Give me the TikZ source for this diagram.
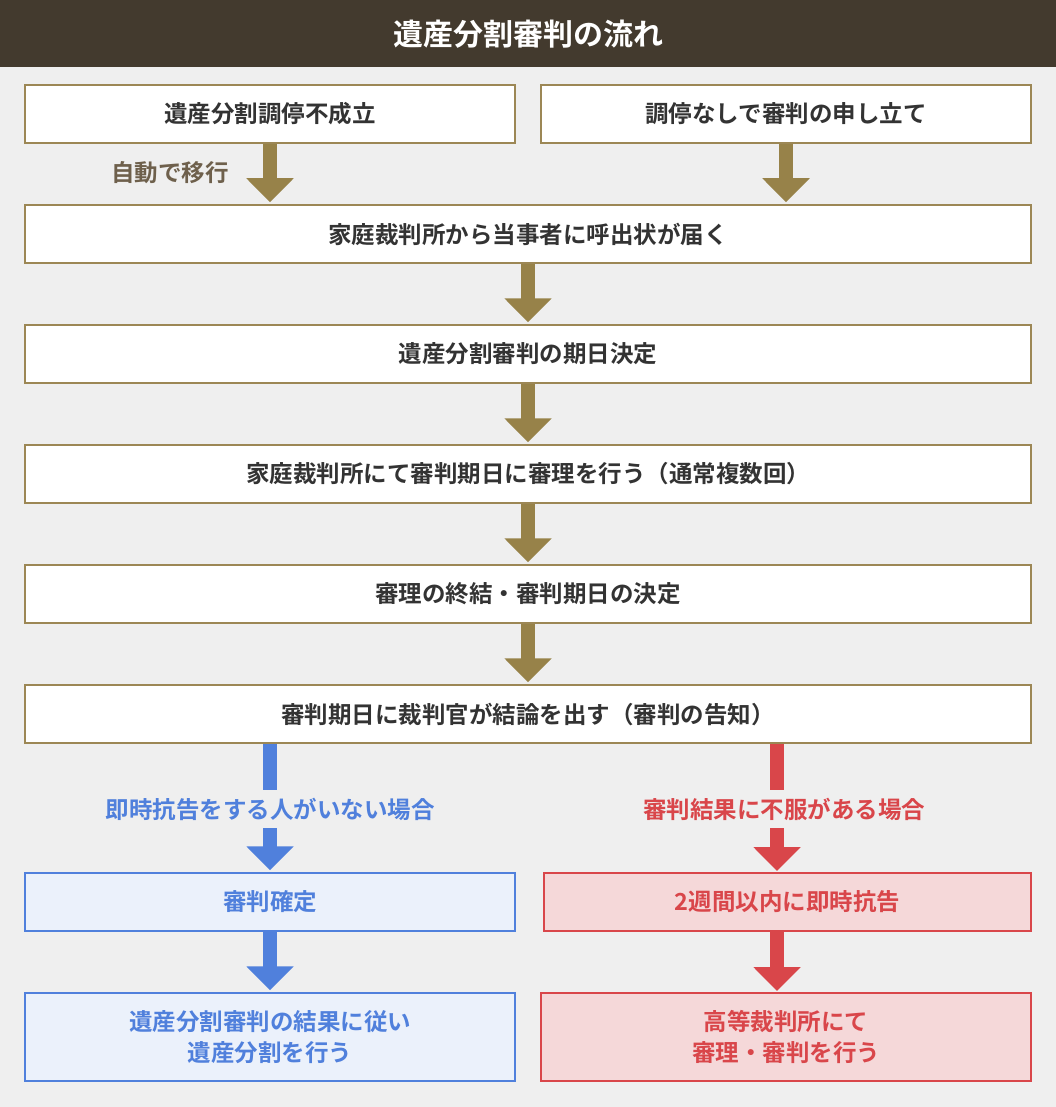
\documentclass[tikz,border=0pt]{standalone}
\usepackage{fontspec}
\setmainfont{Noto Sans CJK JP}[BoldFont={* Bold}]
\usetikzlibrary{arrows.meta}
\definecolor{hdr}{HTML}{433A2E}
\definecolor{bg}{HTML}{EFEFEF}
\definecolor{gold}{HTML}{978249}
\definecolor{goldline}{HTML}{9C8755}
\definecolor{txt}{HTML}{333333}
\definecolor{blu}{HTML}{5080DC}
\definecolor{blufill}{HTML}{EBF1FB}
\definecolor{rd}{HTML}{D9464A}
\definecolor{rdfill}{HTML}{F5D8D9}
\definecolor{lbl}{HTML}{6E604C}
\begin{document}
\begin{tikzpicture}[x=1pt,y=-1pt,
  box/.style={draw=goldline,line width=1.5pt,fill=white,minimum height=58pt,font=\bfseries\fontsize{23.5}{31}\selectfont,text=txt,align=center,inner sep=0pt},
  wide/.style={box,minimum width=1006pt},
  half/.style={box,minimum width=490pt},
  bbox/.style={half,draw=blu,fill=blufill,text=blu},
  rbox/.style={half,draw=rd,fill=rdfill,text=rd},
  arr/.style={line width=14pt,draw=#1,-{Triangle[width=46pt,length=24pt,color=#1]},shorten >=2pt},
  shaft/.style={line width=14pt,draw=#1},
  lab/.style={font=\bfseries\fontsize{23.5}{28}\selectfont,inner sep=0pt,minimum height=38pt}]
\fill[bg] (0,0) rectangle (1056,1107);
\useasboundingbox (0,0) rectangle (1056,1107);
\fill[hdr] (0,0) rectangle (1056,67);
\node[font=\bfseries\fontsize{30}{36}\selectfont,text=white] (title) at (528,34) {遺産分割審判の流れ};
\node[half] (a) at (270,114) {遺産分割調停不成立};
\node[half] (b) at (786,114) {調停なしで審判の申し立て};
\node[wide] (c) at (528,234) {家庭裁判所から当事者に呼出状が届く};
\node[wide] (d) at (528,354) {遺産分割審判の期日決定};
\node[wide] (e) at (528,474) {家庭裁判所にて審判期日に審理を行う（通常複数回）};
\node[wide] (f) at (528,594) {審理の終結・審判期日の決定};
\node[wide] (g) at (528,714) {審判期日に裁判官が結論を出す（審判の告知）};
\node[lab,text=lbl,anchor=east] (auto) at (229,173) {自動で移行};
\draw[arr=gold] (a.south) -- (a.south |- c.north);
\draw[arr=gold] (b.south) -- (b.south |- c.north);
\draw[arr=gold] (c.south) -- (d.north);
\draw[arr=gold] (d.south) -- (e.north);
\draw[arr=gold] (e.south) -- (f.north);
\draw[arr=gold] (f.south) -- (g.north);
\node[lab,text=blu] (lb) at (270,809) {即時抗告をする人がいない場合};
\node[lab,text=rd] (lr) at (784,809) {審判結果に不服がある場合};
\node[bbox] (h) at (270,902) {審判確定};
\node[rbox,minimum width=487pt] (i) at (787.5,902) {2週間以内に即時抗告};
\node[bbox,minimum height=88pt] (j) at (270,1037) {遺産分割審判の結果に従い\\遺産分割を行う};
\node[rbox,minimum height=88pt] (k) at (786,1037) {高等裁判所にて\\審理・審判を行う};
\draw[shaft=blu] (g.south -| h.north) -- (270,790);
\draw[arr=blu] (270,828) -- (h.north);
\draw[shaft=rd] (g.south -| 777,0) -- (777,790);
\draw[arr=rd] (777,828) -- (777,873);
\draw[arr=blu] (h.south) -- (j.north);
\draw[arr=rd] (i.south -| 777,0) -- (777,993);
\end{tikzpicture}
\end{document}
